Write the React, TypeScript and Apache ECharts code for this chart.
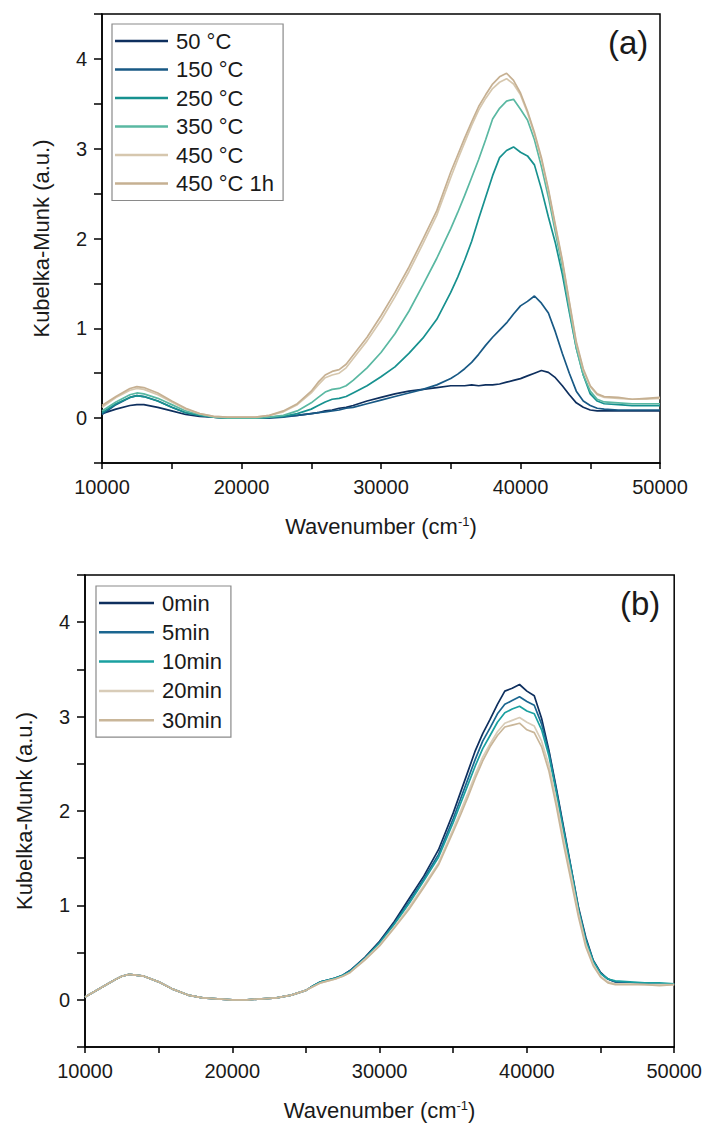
import React, { useEffect, useRef } from "react";
import * as echarts from "echarts";

// Wavenumber sample points (cm-1)
const WAVENUMBERS = [
  10000, 11000, 12000, 12500, 13000, 14000, 15000, 16000, 17000, 18000,
  19000, 20000, 21000, 22000, 23000, 24000, 25000, 25500, 26000, 26500,
  27000, 27500, 28000, 29000, 30000, 31000, 32000, 33000, 34000, 35000,
  35500, 36000, 36500, 37000, 37500, 38000, 38500, 39000, 39500, 40000,
  40500, 41000, 41500, 42000, 42500, 43000, 43500, 44000, 44500, 45000,
  45500, 46000, 47000, 48000, 49000, 50000,
];

// Panel (a): temperature series
const NAMES_A = ["50 °C", "150 °C", "250 °C", "350 °C", "450 °C", "450 °C 1h"];
const COLORS_A = ["#0e2f5e", "#185985", "#17918f", "#5ab8a2", "#d6c7ae", "#c6b092"];

const A_50C = [
  0.05, 0.10, 0.14, 0.15, 0.15, 0.12, 0.08, 0.04, 0.02, 0.01,
  0.00, 0.00, 0.00, 0.01, 0.02, 0.03, 0.05, 0.06, 0.08, 0.09,
  0.11, 0.12, 0.14, 0.19, 0.23, 0.27, 0.30, 0.32, 0.34, 0.36,
  0.36, 0.36, 0.37, 0.36, 0.37, 0.37, 0.38, 0.40, 0.42, 0.44,
  0.47, 0.50, 0.53, 0.51, 0.45, 0.36, 0.26, 0.17, 0.12, 0.09,
  0.08, 0.08, 0.08, 0.08, 0.08, 0.08,
];
const A_150C = [
  0.04, 0.15, 0.23, 0.25, 0.24, 0.19, 0.12, 0.06, 0.03, 0.01,
  0.00, 0.00, 0.00, 0.00, 0.01, 0.03, 0.05, 0.06, 0.07, 0.08,
  0.09, 0.11, 0.12, 0.16, 0.20, 0.24, 0.28, 0.32, 0.37, 0.44,
  0.49, 0.55, 0.62, 0.71, 0.81, 0.90, 0.98, 1.06, 1.16, 1.25,
  1.30, 1.36, 1.28, 1.17, 0.96, 0.72, 0.50, 0.30, 0.19, 0.14,
  0.11, 0.10, 0.09, 0.09, 0.09, 0.09,
];
const A_250C = [
  0.06, 0.16, 0.23, 0.25, 0.24, 0.19, 0.12, 0.06, 0.03, 0.01,
  0.00, 0.00, 0.00, 0.01, 0.02, 0.05, 0.10, 0.14, 0.18, 0.21,
  0.22, 0.24, 0.28, 0.36, 0.46, 0.57, 0.72, 0.89, 1.10, 1.40,
  1.57, 1.76, 1.97, 2.22, 2.46, 2.70, 2.90, 2.98, 3.02, 2.96,
  2.92, 2.82, 2.55, 2.24, 1.95, 1.60, 1.18, 0.78, 0.48, 0.27,
  0.19, 0.16, 0.15, 0.14, 0.14, 0.14,
];
const A_350C = [
  0.08, 0.18, 0.26, 0.28, 0.27, 0.22, 0.15, 0.08, 0.04, 0.01,
  0.00, 0.00, 0.00, 0.01, 0.03, 0.08, 0.17, 0.23, 0.29, 0.32,
  0.33, 0.36, 0.42, 0.56, 0.73, 0.94, 1.19, 1.48, 1.78, 2.11,
  2.29, 2.48, 2.68, 2.88, 3.10, 3.33, 3.45, 3.53, 3.55, 3.44,
  3.32, 3.10, 2.80, 2.46, 2.07, 1.68, 1.22, 0.78, 0.48, 0.30,
  0.21, 0.18, 0.17, 0.16, 0.16, 0.16,
];
const A_450C = [
  0.12, 0.23, 0.31, 0.33, 0.32, 0.26, 0.18, 0.10, 0.05, 0.02,
  0.01, 0.01, 0.01, 0.03, 0.07, 0.15, 0.28, 0.37, 0.45, 0.48,
  0.50, 0.56, 0.66, 0.86, 1.09, 1.35, 1.63, 1.94, 2.26, 2.68,
  2.88, 3.07, 3.26, 3.43, 3.56, 3.67, 3.74, 3.78, 3.72, 3.60,
  3.40, 3.16, 2.88, 2.53, 2.13, 1.74, 1.28, 0.83, 0.53, 0.35,
  0.26, 0.23, 0.22, 0.21, 0.21, 0.22,
];
const A_450C_1H = [
  0.14, 0.24, 0.33, 0.35, 0.34, 0.28, 0.19, 0.11, 0.05, 0.02,
  0.01, 0.01, 0.01, 0.03, 0.08, 0.16, 0.30, 0.40, 0.48, 0.52,
  0.54, 0.60, 0.70, 0.90, 1.14, 1.40, 1.68, 1.99, 2.31, 2.74,
  2.93, 3.12, 3.30, 3.47, 3.60, 3.72, 3.80, 3.84, 3.76, 3.62,
  3.42, 3.18, 2.90, 2.55, 2.15, 1.76, 1.30, 0.85, 0.55, 0.36,
  0.27, 0.24, 0.23, 0.21, 0.22, 0.23,
];
const SERIES_A = [A_50C, A_150C, A_250C, A_350C, A_450C, A_450C_1H];

// Panel (b): time series
const NAMES_B = ["0min", "5min", "10min", "20min", "30min"];
const COLORS_B = ["#0e2f5e", "#1b6690", "#1aa0a0", "#d8ccb8", "#c9b699"];

const B_0 = [
  0.03, 0.12, 0.21, 0.25, 0.27, 0.25, 0.19, 0.11, 0.05, 0.02,
  0.01, 0.00, 0.00, 0.01, 0.02, 0.05, 0.10, 0.15, 0.19, 0.21,
  0.23, 0.26, 0.31, 0.45, 0.62, 0.83, 1.07, 1.31, 1.59, 1.98,
  2.20, 2.42, 2.64, 2.82, 2.97, 3.13, 3.27, 3.30, 3.34, 3.27,
  3.22, 2.98, 2.64, 2.24, 1.82, 1.40, 0.98, 0.66, 0.42, 0.29,
  0.22, 0.19, 0.18, 0.18, 0.17, 0.17,
];
const B_5 = [
  0.03, 0.12, 0.21, 0.25, 0.27, 0.25, 0.19, 0.11, 0.05, 0.02,
  0.01, 0.00, 0.00, 0.01, 0.02, 0.05, 0.10, 0.15, 0.19, 0.21,
  0.23, 0.26, 0.31, 0.44, 0.61, 0.81, 1.04, 1.28, 1.54, 1.92,
  2.13, 2.34, 2.55, 2.74, 2.88, 3.03, 3.13, 3.17, 3.21, 3.16,
  3.12, 2.92, 2.62, 2.22, 1.80, 1.39, 0.96, 0.64, 0.41, 0.28,
  0.22, 0.19, 0.18, 0.18, 0.17, 0.17,
];
const B_10 = [
  0.03, 0.12, 0.21, 0.25, 0.27, 0.25, 0.19, 0.11, 0.05, 0.02,
  0.01, 0.00, 0.00, 0.01, 0.02, 0.05, 0.10, 0.15, 0.19, 0.21,
  0.23, 0.26, 0.30, 0.44, 0.60, 0.80, 1.02, 1.26, 1.51, 1.88,
  2.08, 2.28, 2.48, 2.66, 2.80, 2.94, 3.04, 3.08, 3.11, 3.06,
  3.03, 2.86, 2.58, 2.19, 1.78, 1.38, 0.96, 0.63, 0.41, 0.28,
  0.22, 0.20, 0.19, 0.18, 0.18, 0.17,
];
const B_20 = [
  0.03, 0.12, 0.21, 0.25, 0.27, 0.25, 0.19, 0.11, 0.05, 0.02,
  0.01, 0.00, 0.00, 0.01, 0.02, 0.05, 0.10, 0.14, 0.18, 0.20,
  0.22, 0.25, 0.29, 0.43, 0.58, 0.77, 0.98, 1.21, 1.45, 1.81,
  2.00, 2.19, 2.39, 2.57, 2.71, 2.84, 2.93, 2.96, 2.99, 2.94,
  2.90, 2.74, 2.48, 2.11, 1.70, 1.32, 0.92, 0.59, 0.38, 0.25,
  0.19, 0.17, 0.17, 0.16, 0.16, 0.16,
];
const B_30 = [
  0.03, 0.12, 0.21, 0.25, 0.27, 0.25, 0.19, 0.11, 0.05, 0.02,
  0.01, 0.00, 0.00, 0.01, 0.02, 0.05, 0.10, 0.14, 0.18, 0.20,
  0.22, 0.25, 0.29, 0.42, 0.57, 0.76, 0.96, 1.19, 1.43, 1.78,
  1.96, 2.15, 2.35, 2.53, 2.68, 2.80, 2.89, 2.91, 2.93, 2.86,
  2.83, 2.68, 2.42, 2.05, 1.64, 1.26, 0.88, 0.56, 0.36, 0.24,
  0.18, 0.16, 0.16, 0.16, 0.15, 0.16,
];
const SERIES_B = [B_0, B_5, B_10, B_20, B_30];

const X_TICK_LABELS = ["10000", "20000", "30000", "40000", "50000"];
const Y_TICK_LABELS = ["0", "1", "2", "3", "4"];

const FONT = "'Liberation Sans', Arial, sans-serif";

function xAxisDef(gridIndex: number) {
  return {
    type: "value",
    gridIndex,
    min: 10000,
    max: 50000,
    interval: 5000,
    name: "Wavenumber (cm{sup|-1})",
    nameLocation: "middle",
    nameGap: 52,
    nameTextStyle: {
      fontFamily: FONT,
      fontSize: 22,
      color: "#1a1a1a",
      rich: { sup: { fontSize: 13, verticalAlign: "top", fontFamily: FONT, color: "#1a1a1a" } },
    },
    axisLine: { show: true, onZero: false, lineStyle: { color: "#000", width: 1.5 } },
    axisTick: { show: true, inside: false, length: 6, lineStyle: { color: "#000", width: 1.5 } },
    axisLabel: {
      margin: 14,
      fontFamily: FONT,
      fontSize: 20,
      color: "#1a1a1a",
      formatter: (v: number) => {
        const s = String(Math.round(v));
        return X_TICK_LABELS.includes(s) ? s : "";
      },
    },
    splitLine: { show: false },
  };
}

function yAxisDef(gridIndex: number) {
  return {
    type: "value",
    gridIndex,
    min: -0.5,
    max: 4.5,
    interval: 0.5,
    name: "Kubelka-Munk (a.u.)",
    nameLocation: "middle",
    nameGap: 50,
    nameTextStyle: { fontFamily: FONT, fontSize: 22, color: "#1a1a1a" },
    axisLine: { show: true, onZero: false, lineStyle: { color: "#000", width: 1.5 } },
    axisTick: { show: true, inside: false, length: 8, lineStyle: { color: "#000", width: 1.5 } },
    axisLabel: {
      margin: 15,
      fontFamily: FONT,
      fontSize: 20,
      color: "#1a1a1a",
      formatter: (v: number) => {
        const s = String(Math.round(v * 100) / 100);
        return Y_TICK_LABELS.includes(s) ? s : "";
      },
    },
    splitLine: { show: false },
  };
}

function legendDef(names: string[], left: number, top: number, gap: number, itemWidth: number) {
  return {
    orient: "vertical",
    left,
    top,
    data: names.map((n) => ({ name: n, icon: "rect" })),
    itemWidth,
    itemHeight: 2.5,
    itemGap: gap,
    padding: [6, 9, 6, 3],
    borderColor: "#8a8a8a",
    borderWidth: 1.2,
    borderRadius: 0,
    backgroundColor: "#fff",
    textStyle: {
      fontFamily: FONT,
      fontSize: 22,
      lineHeight: 22,
      color: "#1a1a1a",
      padding: [0, 0, 0, 3],
    },
  };
}

export default function App() {
  const ref = useRef<HTMLDivElement>(null);
  useEffect(() => {
    if (!ref.current) return;
    const chart = echarts.init(ref.current, undefined, { renderer: "svg" });
    const series: any[] = [];
    SERIES_A.forEach((ys, i) => {
      series.push({
        type: "line",
        name: NAMES_A[i],
        xAxisIndex: 0,
        yAxisIndex: 0,
        data: WAVENUMBERS.map((x, k) => [x, ys[k]]),
        symbol: "none",
        lineStyle: { color: COLORS_A[i], width: 1.7 },
        itemStyle: { color: COLORS_A[i] },
      });
    });
    SERIES_B.forEach((ys, i) => {
      series.push({
        type: "line",
        name: NAMES_B[i],
        xAxisIndex: 1,
        yAxisIndex: 1,
        data: WAVENUMBERS.map((x, k) => [x, ys[k]]),
        symbol: "none",
        lineStyle: { color: COLORS_B[i], width: 1.7 },
        itemStyle: { color: COLORS_B[i] },
      });
    });
    chart.setOption({
      animation: false,
      backgroundColor: "#fff",
      grid: [
        { left: 102, right: 45, top: 14, height: 449, show: true, borderColor: "#000", borderWidth: 1.5, backgroundColor: "transparent" },
        { left: 85, right: 28, top: 575, height: 472, show: true, borderColor: "#000", borderWidth: 1.5, backgroundColor: "transparent" },
      ],
      xAxis: [xAxisDef(0), xAxisDef(1)],
      yAxis: [yAxisDef(0), yAxisDef(1)],
      legend: [
        legendDef(NAMES_A, 112, 24, 6.5, 53),
        legendDef(NAMES_B, 96, 586, 7.3, 55),
      ],
      graphic: [
        { type: "text", left: 608, top: 26, style: { text: "(a)", fontFamily: FONT, fontSize: 33, fill: "#1a1a1a" } },
        { type: "text", left: 620, top: 587, style: { text: "(b)", fontFamily: FONT, fontSize: 33, fill: "#1a1a1a" } },
      ],
      series,
    });
    return () => chart.dispose();
  }, []);
  return (
    <div
      ref={ref}
      style={{ position: "fixed", left: 0, top: 0, width: 705, height: 1127, background: "#fff" }}
    />
  );
}
